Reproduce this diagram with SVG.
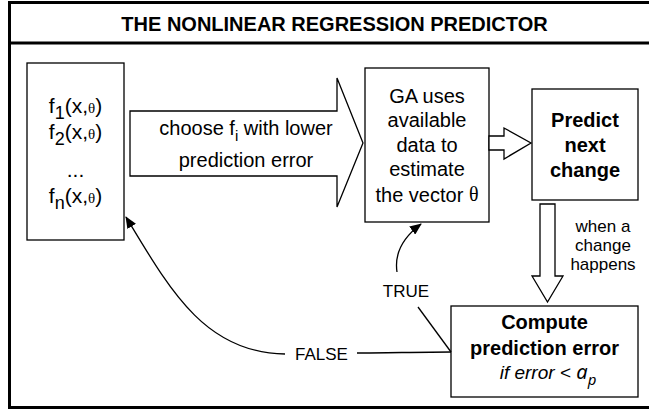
<svg xmlns="http://www.w3.org/2000/svg" width="649" height="411" viewBox="0 0 649 411">
  <style>
    .box { fill: #fff; stroke: #000; stroke-width: 1.3; }
    .block { fill: #fff; stroke: #000; stroke-width: 1.3; stroke-linejoin: miter; }
    .line { fill: none; stroke: #000; stroke-width: 1.3; }
    .t { font-family: "Liberation Sans", Arial, sans-serif; font-size: 20px; fill: #000; text-anchor: middle; }
    .fx { font-size: 21px; }
    .b { font-weight: bold; }
    .s { font-size: 17px; }
    .sub { font-size: 15px; }
    .fsub { font-size: 18px; }
    .th { font-family: "Liberation Serif", "Times New Roman", serif; }
    .it { font-style: italic; font-size: 19px; }
    .ap { font-family: "Noto Sans", sans-serif; }
  </style>
  <defs>
    <marker id="head" viewBox="0 0 12 10" refX="11" refY="5" markerWidth="12" markerHeight="10" markerUnits="userSpaceOnUse" orient="auto">
      <path d="M0,0 L12,5 L0,10 Z" fill="#000"/>
    </marker>
  </defs>

  <!-- frame and title bar -->
  <g id="frame">
    <rect x="9.5" y="2.5" width="660" height="405" fill="#fff" stroke="#000" stroke-width="3"/>
    <line x1="9.5" y1="43" x2="660" y2="43" stroke="#000" stroke-width="3"/>
    <text class="t b" x="334.5" y="31">THE NONLINEAR REGRESSION PREDICTOR</text>
  </g>

  <!-- candidate functions -->
  <g id="functions">
    <rect class="box" x="27" y="63" width="97" height="177"/>
    <text class="t fx" x="75.5" y="113">f<tspan class="fsub" dy="6">1</tspan><tspan dy="-6">(x,</tspan><tspan class="th sub">θ</tspan>)</text>
    <text class="t fx" x="75.5" y="139">f<tspan class="fsub" dy="6">2</tspan><tspan dy="-6">(x,</tspan><tspan class="th sub">θ</tspan>)</text>
    <text class="t fx" x="75.5" y="177">...</text>
    <text class="t fx" x="75.5" y="203">f<tspan class="fsub" dy="6">n</tspan><tspan dy="-6">(x,</tspan><tspan class="th sub">θ</tspan>)</text>
  </g>

  <!-- genetic algorithm estimation -->
  <g id="ga">
    <rect class="box" x="365" y="68" width="124" height="154"/>
    <text class="t" x="427" y="103">GA uses</text>
    <text class="t" x="427" y="127">available</text>
    <text class="t" x="427" y="152">data to</text>
    <text class="t" x="427" y="176">estimate</text>
    <text class="t" x="427" y="202">the vector <tspan class="th" dy="-1">θ</tspan></text>
  </g>

  <!-- prediction -->
  <g id="predict">
    <rect class="box" x="532" y="89" width="106" height="111"/>
    <text class="t b" x="585" y="127">Predict</text>
    <text class="t b" x="585" y="152">next</text>
    <text class="t b" x="585" y="177">change</text>
  </g>

  <!-- error evaluation -->
  <g id="compute">
    <rect class="box" x="451" y="306" width="187" height="91"/>
    <text class="t b" x="544.5" y="329">Compute</text>
    <text class="t b" x="544.5" y="355">prediction error</text>
    <text class="t it" x="548" y="379">if error &lt; <tspan class="ap" font-size="20">a</tspan><tspan class="ap sub" dy="6">p</tspan></text>
  </g>

  <!-- connectors -->
  <g id="connectors">
    <polygon class="block" points="130,111 337,111 337,78 363,143 337,207 337,176 130,176"/>
    <text class="t" x="246" y="135">choose f<tspan class="sub" dy="6">i</tspan><tspan dy="-6"> with lower</tspan></text>
    <text class="t" x="246" y="167">prediction error</text>

    <polygon class="block" points="489,136 504,136 504,128 531,143 504,159 504,150 489,150"/>

    <polygon class="block" points="540,204 555,204 555,276 563,276 547.5,302 532,276 540,276"/>
    <text class="t s" x="603" y="232">when a</text>
    <text class="t s" x="603" y="251">change</text>
    <text class="t s" x="603" y="270">happens</text>

    <path class="line" d="M451,352 L418,307"/>
    <text class="t s" x="406" y="297">TRUE</text>
    <path class="line" d="M397,272 C394,252 405,236 421,224" marker-end="url(#head)"/>

    <path class="line" d="M451,352 C420,352 385,353 357,353"/>
    <text class="t s" x="321.5" y="360">FALSE</text>
    <path class="line" d="M285,354 C205,353 170,290 126,217" marker-end="url(#head)"/>
  </g>
</svg>
